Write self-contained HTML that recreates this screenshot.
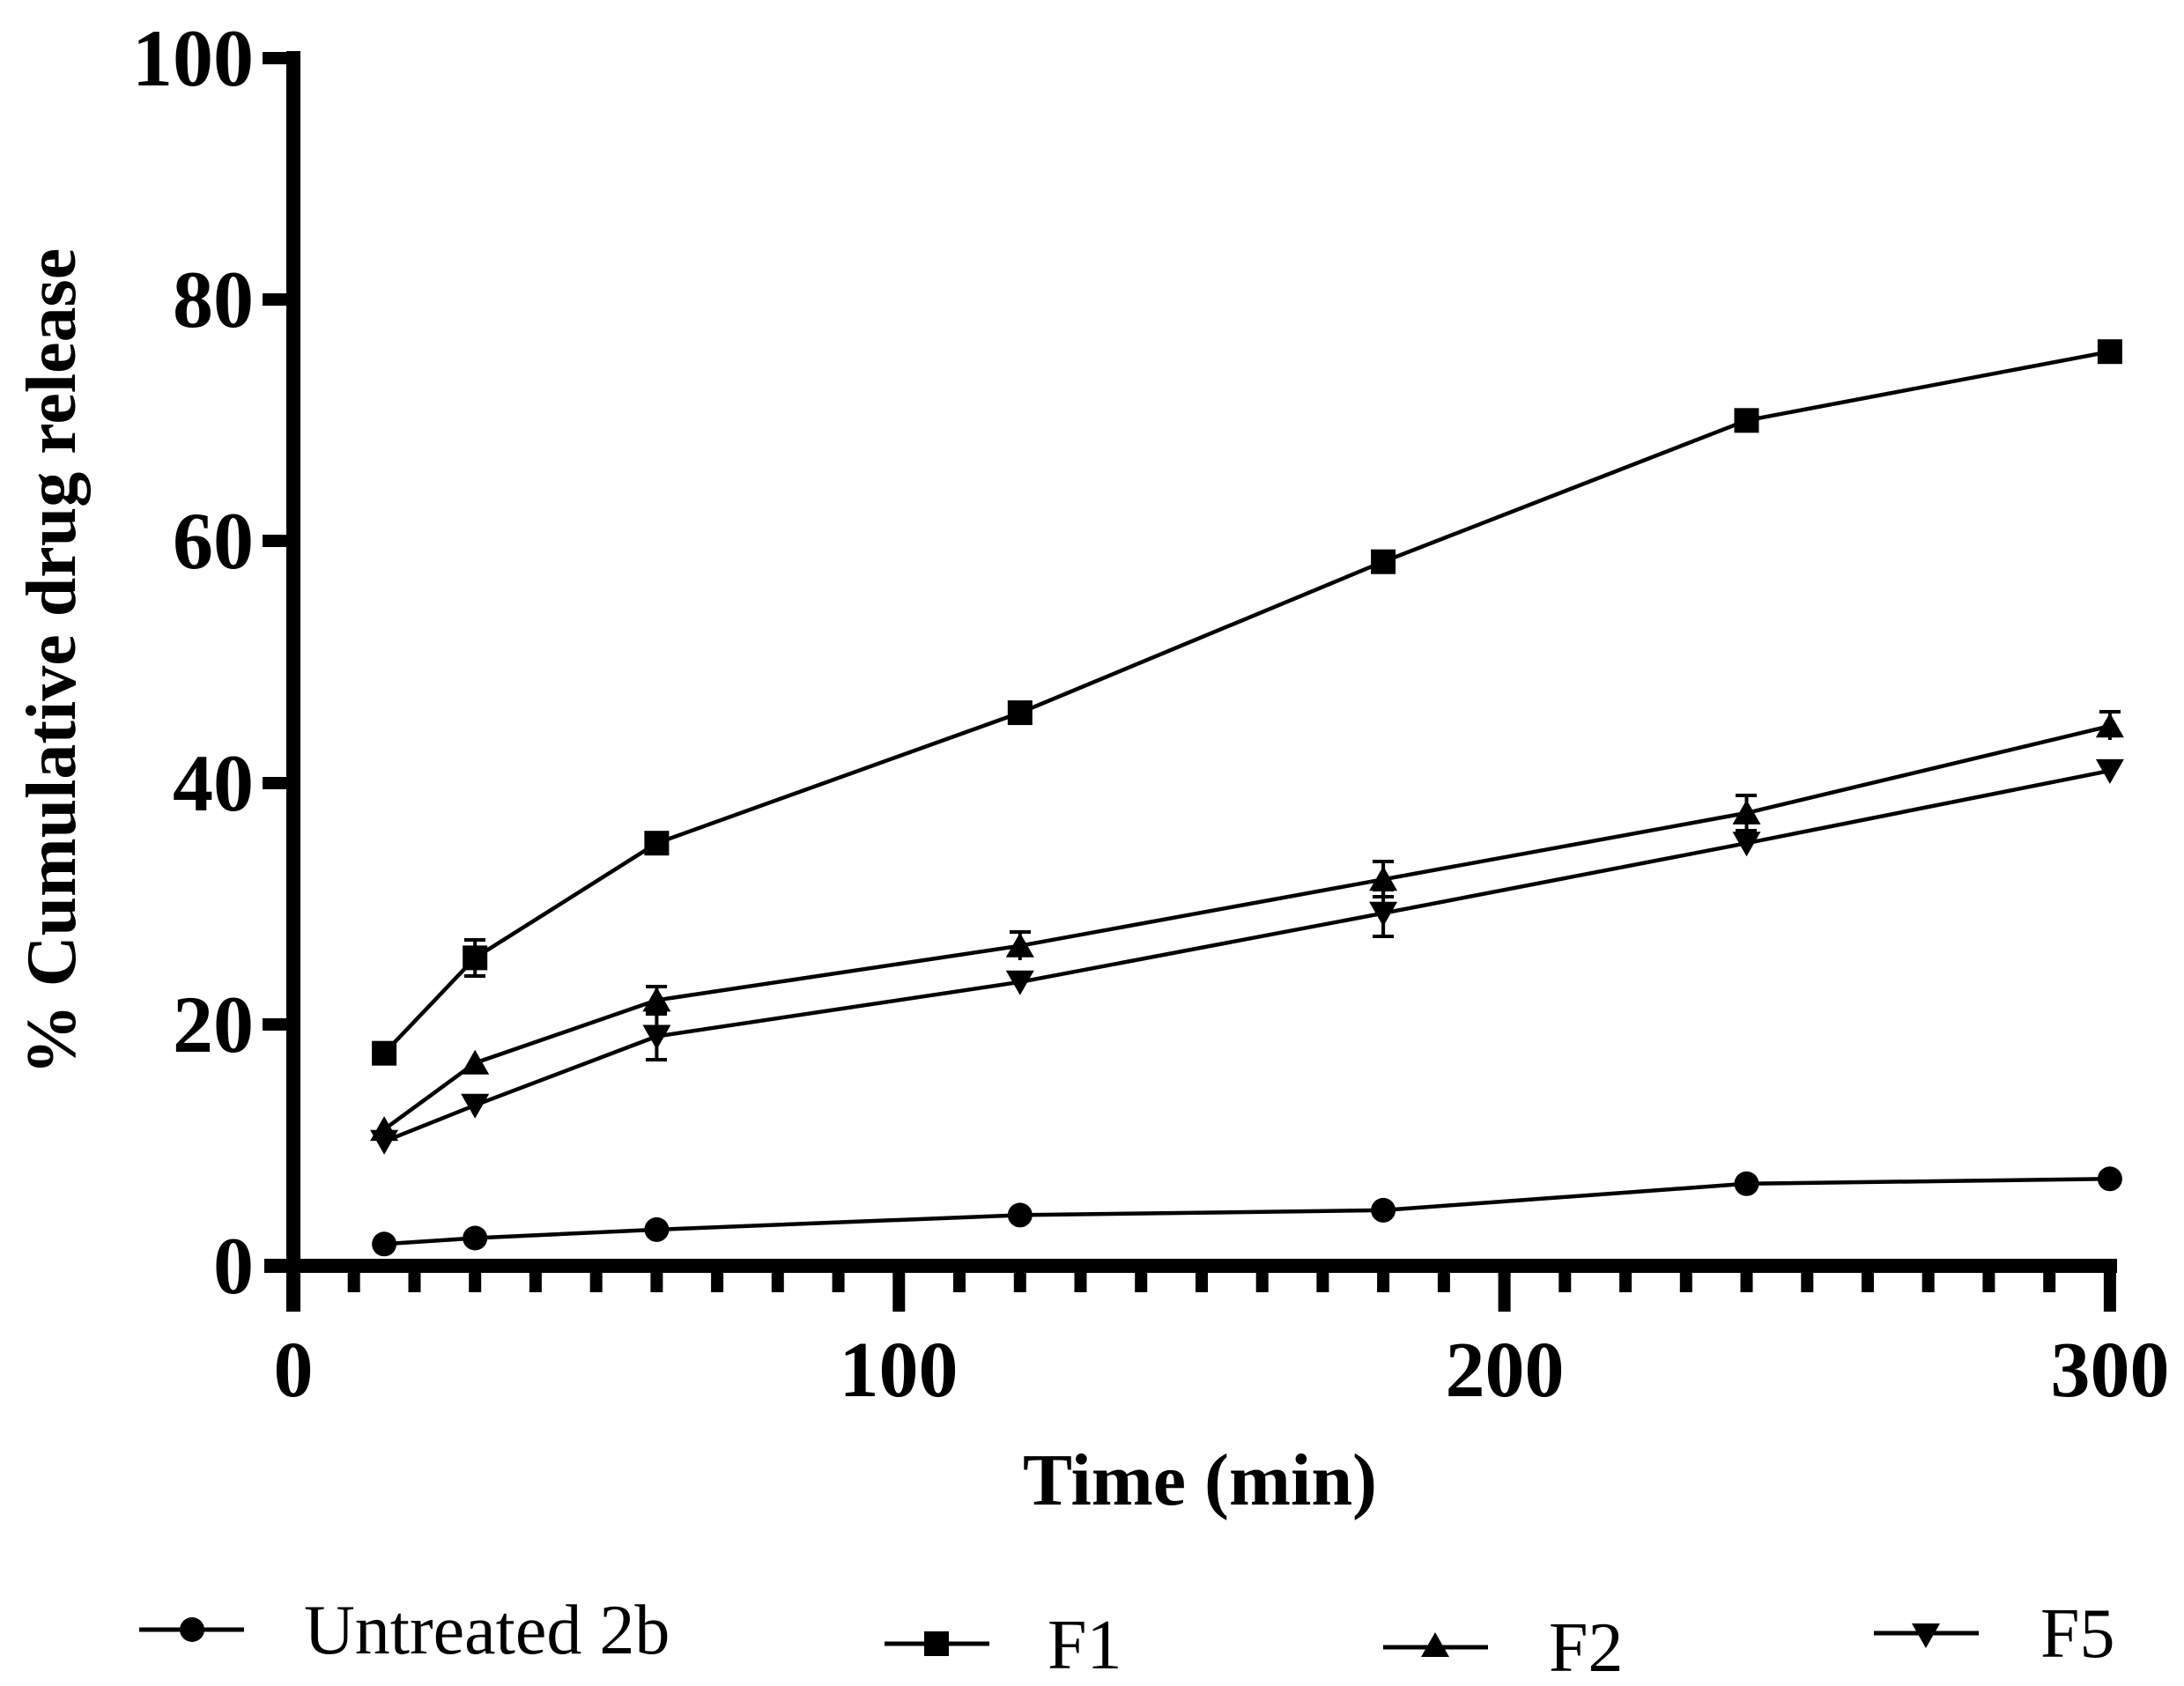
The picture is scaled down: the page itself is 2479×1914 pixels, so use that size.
<!DOCTYPE html>
<html><head><style>body{margin:0;background:#fff}svg{display:block}</style></head><body>
<svg width="2479" height="1914" xmlns="http://www.w3.org/2000/svg" xmlns:xlink="http://www.w3.org/1999/xlink" font-family="Liberation Serif, serif">
<defs>
<circle id="mc" r="14"/>
<rect id="ms" x="-14" y="-14" width="28" height="28"/>
<polygon id="mu" points="0,-15 16,13 -16,13"/>
<polygon id="md" points="0,15 16,-13 -16,-13"/>
</defs>
<rect width="2479" height="1914" fill="#fff"/>
<g stroke="#000" stroke-width="16" fill="none">
<line x1="333" y1="58" x2="333" y2="1489"/>
<line x1="300" y1="1437" x2="2403" y2="1437"/>
</g>
<g stroke="#000" stroke-width="14">
<line x1="298" y1="66" x2="340" y2="66"/>
<line x1="298" y1="340" x2="340" y2="340"/>
<line x1="298" y1="614" x2="340" y2="614"/>
<line x1="298" y1="889" x2="340" y2="889"/>
<line x1="298" y1="1163" x2="340" y2="1163"/>
<path d="M401.7 1437V1467M470.5 1437V1467M539.2 1437V1467M607.9 1437V1467M676.7 1437V1467M745.4 1437V1467M814.1 1437V1467M882.8 1437V1467M951.6 1437V1467M1020.3 1437V1489M1089 1437V1467M1157.8 1437V1467M1226.5 1437V1467M1295.2 1437V1467M1364 1437V1467M1432.7 1437V1467M1501.4 1437V1467M1570.1 1437V1467M1638.9 1437V1467M1707.6 1437V1489M1776.3 1437V1467M1845.1 1437V1467M1913.8 1437V1467M1982.5 1437V1467M2051.3 1437V1467M2120 1437V1467M2188.7 1437V1467M2257.4 1437V1467M2326.2 1437V1467M2394.9 1437V1489"/>
</g>
<g font-weight="bold" font-size="92" text-anchor="end">
<text x="288" y="97">100</text><text x="288" y="371">80</text><text x="288" y="645">60</text><text x="288" y="920">40</text><text x="288" y="1194">20</text><text x="288" y="1468">0</text>
</g>
<g font-weight="bold" font-size="90" text-anchor="middle">
<text x="333" y="1585">0</text><text x="1020" y="1585">100</text><text x="1708" y="1585">200</text><text x="2395" y="1585">300</text>
<text x="1362" y="1708" font-size="84">Time (min)</text>
<text transform="translate(85,751) rotate(-90)" font-size="80">% Cumulative drug release</text>
</g>
<g font-size="80">
<text x="345" y="1877">Untreated 2b</text>
<text x="1189" y="1894">F1</text>
<text x="1758" y="1897">F2</text>
<text x="2316" y="1881">F5</text>
</g>
<g stroke="#000" stroke-width="5">
<line x1="158" y1="1850" x2="277" y2="1850"/>
<line x1="1004" y1="1866" x2="1123" y2="1866"/>
<line x1="1570" y1="1870" x2="1689" y2="1870"/>
<line x1="2127" y1="1854" x2="2246" y2="1854"/>
</g>
<use xlink:href="#mc" x="218" y="1850"/>
<use xlink:href="#ms" x="1063" y="1866"/>
<use xlink:href="#mu" x="1629" y="1868"/>
<use xlink:href="#md" x="2186" y="1856"/>
<g fill="none" stroke="#000" stroke-width="4.5">
<polyline points="436.1,1412.3 539.2,1405.5 745.4,1395.9 1157.8,1379.4 1570.1,1373.9 1982.5,1343.8 2394.9,1338.3"/>
<polyline points="436.1,1195.7 539.2,1087.4 745.4,957.2 1157.8,809.1 1570.1,637.7 1982.5,477.3 2394.9,399.2"/>
<polyline points="436.1,1282.1 539.2,1206.7 745.4,1135.4 1157.8,1073.7 1570.1,998.3 1982.5,922.9 2394.9,824.2"/>
<polyline points="436.1,1295.8 539.2,1254.7 745.4,1176.5 1157.8,1114.8 1570.1,1036.7 1982.5,957.2 2394.9,874.9"/>
</g>
<g stroke="#000" stroke-width="4">
<path d="M539.2 1067V1108M527 1067H551M527 1108H551"/>
<path d="M745.4 1120V1151M733 1120H757M733 1151H757"/>
<path d="M1570.1 978V1018M1558 978H1582M1558 1018H1582"/>
<path d="M1982.5 903V943M1970 903H1994M1970 943H1994"/>
<path d="M745.4 1150V1203M733 1150H757M733 1203H757"/>
<path d="M1570.1 1010V1063M1558 1010H1582M1558 1063H1582"/>
<path d="M2394.9 808V840M2383 808H2407"/>
<path d="M1157.8 1058V1090M1146 1058H1170"/>
</g>
<g>
<use xlink:href="#mc" x="436.1" y="1412.3"/><use xlink:href="#mc" x="539.2" y="1405.5"/><use xlink:href="#mc" x="745.4" y="1395.9"/><use xlink:href="#mc" x="1157.8" y="1379.4"/><use xlink:href="#mc" x="1570.1" y="1373.9"/><use xlink:href="#mc" x="1982.5" y="1343.8"/><use xlink:href="#mc" x="2394.9" y="1338.3"/>
<use xlink:href="#ms" x="436.1" y="1195.7"/><use xlink:href="#ms" x="539.2" y="1087.4"/><use xlink:href="#ms" x="745.4" y="957.2"/><use xlink:href="#ms" x="1157.8" y="809.1"/><use xlink:href="#ms" x="1570.1" y="637.7"/><use xlink:href="#ms" x="1982.5" y="477.3"/><use xlink:href="#ms" x="2394.9" y="399.2"/>
<use xlink:href="#mu" x="436.1" y="1282.1"/><use xlink:href="#mu" x="539.2" y="1206.7"/><use xlink:href="#mu" x="745.4" y="1135.4"/><use xlink:href="#mu" x="1157.8" y="1073.7"/><use xlink:href="#mu" x="1570.1" y="998.3"/><use xlink:href="#mu" x="1982.5" y="922.9"/><use xlink:href="#mu" x="2394.9" y="824.2"/>
<use xlink:href="#md" x="436.1" y="1295.8"/><use xlink:href="#md" x="539.2" y="1254.7"/><use xlink:href="#md" x="745.4" y="1176.5"/><use xlink:href="#md" x="1157.8" y="1114.8"/><use xlink:href="#md" x="1570.1" y="1036.7"/><use xlink:href="#md" x="1982.5" y="957.2"/><use xlink:href="#md" x="2394.9" y="874.9"/>
</g>
</svg>
</body></html>
